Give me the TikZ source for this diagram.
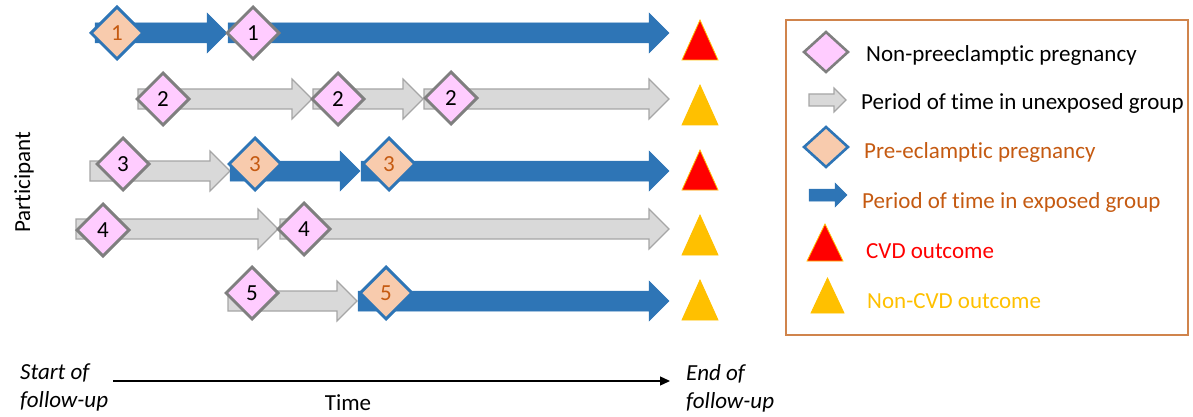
\documentclass[tikz,border=0pt]{standalone}
\usepackage{fontspec}
\setmainfont{Carlito}[Ligatures=NoCommon]
\usetikzlibrary{shapes.geometric,arrows.meta}

\definecolor{expblue}{HTML}{2E75B6}
\definecolor{unfill}{HTML}{D9D9D9}
\definecolor{unedge}{HTML}{A6A6A6}
\definecolor{dmdgray}{HTML}{7F7F7F}
\definecolor{pinkfill}{HTML}{FFCCFF}
\definecolor{peach}{HTML}{F8CBAD}
\definecolor{peorange}{HTML}{C55A11}
\definecolor{boxedge}{HTML}{D0844C}
\definecolor{gold}{HTML}{FFC000}

\tikzset{
  unexp/.style={fill=unfill,draw=unedge,line width=1.2pt},
  expo/.style={fill=expblue,draw=expblue,line width=0.5pt},
  nonpe/.style={diamond,draw=dmdgray,fill=pinkfill,line width=3pt,minimum size=53,inner sep=0pt},
  pe/.style={nonpe,draw=expblue,fill=peach,text=peorange},
  cvd/.style={fill=red,draw=gold,line width=0.8pt,line join=miter},
  noncvd/.style={fill=gold,draw=gold,line width=0.8pt},
  legtext/.style={anchor=west,inner sep=0pt},
  legbox/.style={draw=boxedge,line width=1.5pt}
}

% block arrow: [scale]{style}{x start}{x tip}{y}
\newcommand\tarrow[5][1]{\draw[#2] (#3,#5-10*#1) -- (#4-20*#1,#5-10*#1) -- (#4-20*#1,#5-20*#1) -- (#4,#5)
  -- (#4-20*#1,#5+20*#1) -- (#4-20*#1,#5+10*#1) -- (#3,#5+10*#1) -- cycle;}

\begin{document}
\begin{tikzpicture}[x=1pt,y=-1pt,font=\fontsize{23}{28}\selectfont]
  \useasboundingbox (0,0) rectangle (1193,417);
  % periods of time, row by row
  \foreach \s/\a/\b/\r in {expo/95/227/33, expo/228/669/33,
      unexp/138/312/99, unexp/313/423/99, unexp/424/669/99,
      unexp/90/230/171, expo/230/360/171, expo/361/669/171,
      unexp/76/278/229, unexp/280/669/229,
      unexp/228/357/301, expo/358/669/301}
    {\tarrow{\s}{\a}{\b}{\r}}
  % pregnancies
  \foreach \s/\x/\y/\n [count=\i from 1] in {pe/117/33/1, nonpe/253/33/1,
      nonpe/163/99/2, nonpe/338/99/2, nonpe/451/98/2,
      nonpe/123/164/3, pe/255/164/3, pe/389/164/3,
      nonpe/103/230/4, nonpe/304/229/4,
      nonpe/252/293/5, pe/386/293/5}
    {\node[\s] (p\i) at (\x,\y) {\n};}
  % outcomes
  \foreach \s/\r [count=\i from 1] in {cvd/40, noncvd/105, cvd/170, noncvd/235, noncvd/300}
    {\draw[\s] (682,\r+20) -- (700,\r-20) -- (718,\r+20) -- cycle;}

  \node[rotate=90] (part) at (24,182) {Participant};
  \coordinate (t0) at (113,381);
  \coordinate (t1) at (670,381);
  \draw[line width=1.3pt,-{Triangle[length=10pt,width=9pt]}] (t0) -- (t1);
  \node[anchor=north west,align=left,inner sep=0pt,font=\fontsize{23}{28}\selectfont\itshape] (start) at (20,364) {Start of\\follow-up};
  \node[anchor=north west,align=left,inner sep=0pt,font=\fontsize{23}{28}\selectfont\itshape] (end) at (686,364) {End of\\follow-up};
  \node (time) at (348,403) {Time};

  % legend
  \draw[legbox] (786,20) rectangle (1188,335);
  \node[nonpe,minimum width=45,minimum height=41,line width=2.6pt] (k1) at (826,52) {};
  \tarrow[0.6]{unexp}{809}{846}{100}
  \node[pe,minimum width=45,minimum height=41,line width=2.6pt] (k3) at (826,147) {};
  \tarrow[0.6]{expo}{809}{847}{195}
  \draw[cvd] (807,261) -- (825,224) -- (843,261) -- cycle;
  \draw[noncvd] (811,313) -- (827.5,278) -- (844,313) -- cycle;
  \node[legtext] (l1) at (866,55) {Non-preeclamptic pregnancy};
  \node[legtext] (l2) at (861,103) {Period of time in unexposed group};
  \node[legtext,text=peorange] (l3) at (864,152) {Pre-eclamptic pregnancy};
  \node[legtext,text=peorange] (l4) at (862,202) {Period of time in exposed group};
  \node[legtext,text=red] (l5) at (866,251) {CVD outcome};
  \node[legtext,text=gold] (l6) at (867,301) {Non-CVD outcome};
\end{tikzpicture}
\end{document}
